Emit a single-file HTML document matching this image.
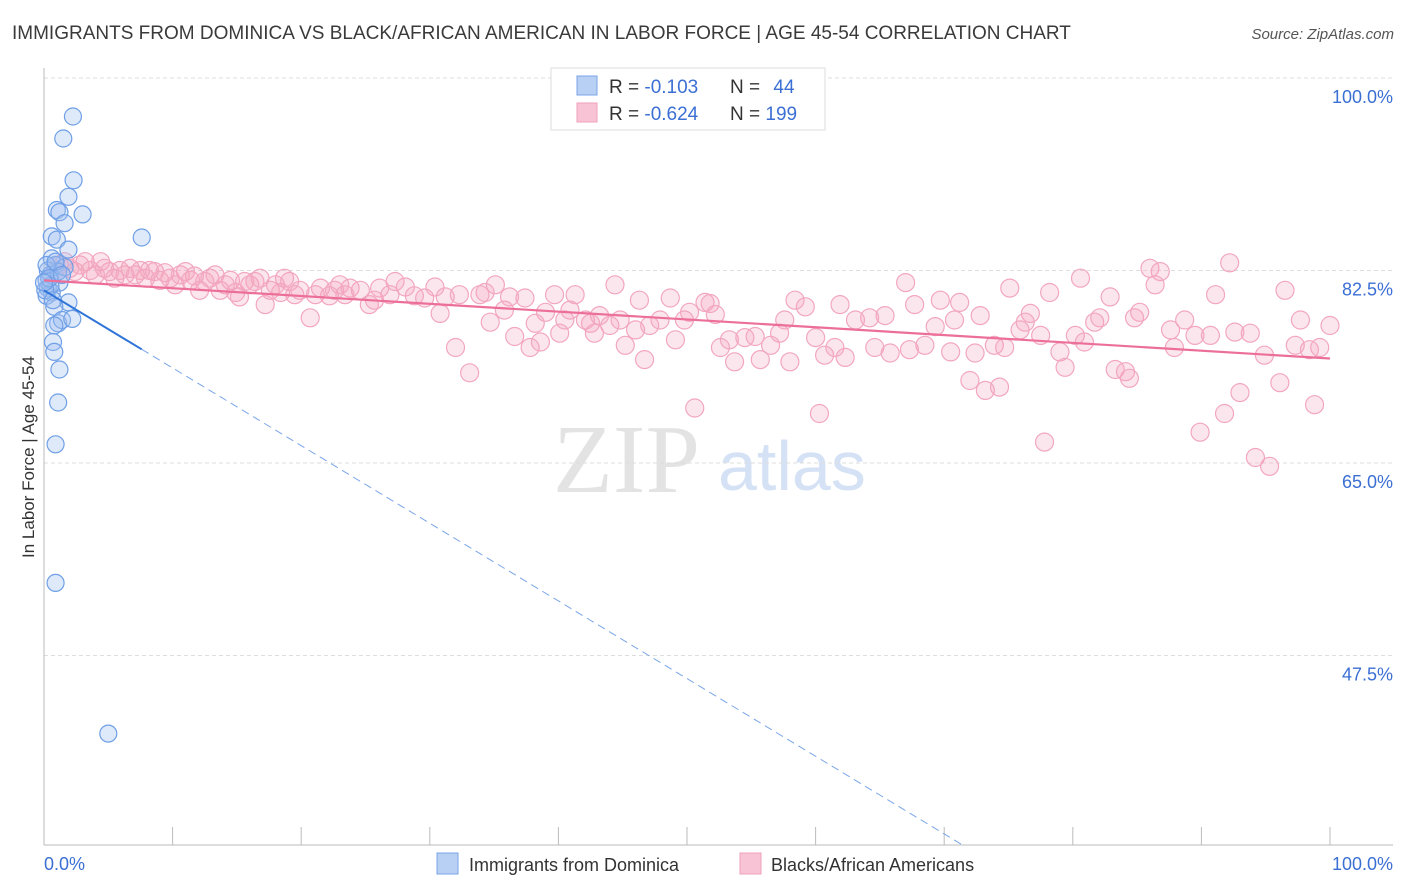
<!DOCTYPE html>
<html><head><meta charset="utf-8"><style>
body{margin:0;background:#fff;font-family:"Liberation Sans",sans-serif;}
#wrap{position:relative;width:1406px;height:892px;overflow:hidden;}
</style></head><body>
<div id="wrap">
<svg id="svg" width="1406" height="892" xmlns="http://www.w3.org/2000/svg">
<text x="12" y="39" font-size="19" fill="#3a3a3a" font-family="Liberation Sans">IMMIGRANTS FROM DOMINICA VS BLACK/AFRICAN AMERICAN IN LABOR FORCE | AGE 45-54 CORRELATION CHART</text>
<text x="1394" y="39" font-size="15" fill="#555" font-style="italic" text-anchor="end">Source: ZipAtlas.com</text>
<text transform="translate(34,457) rotate(-90)" font-size="17" fill="#333" text-anchor="middle">In Labor Force | Age 45-54</text>
<g>
<text x="553" y="492" font-size="98" fill="#e3e3e3" font-family="Liberation Serif">ZIP</text>
<text x="718" y="490" font-size="70" fill="#d5e2f5">atlas</text>
</g>
<g id="grid"></g>
<g id="axes"></g>
<g id="pinkPts"></g>
<g id="bluePts"></g>
<g id="trends"></g>
<g>
<rect x="551" y="68" width="274" height="62" fill="#fff" stroke="#ddd"/>
<rect x="577" y="76" width="20" height="19" fill="#b9d0f5" stroke="#7aa5e8"/>
<rect x="577" y="103" width="20" height="19" fill="#f8c3d4" stroke="#f0a0bb"/>
<text x="609" y="93" font-size="19" fill="#333">R = <tspan fill="#3b6fd4">-0.103</tspan></text>
<text x="730" y="93" font-size="19" fill="#333">N = <tspan fill="#3b6fd4" dx="8">44</tspan></text>
<text x="609" y="120" font-size="19" fill="#333">R = <tspan fill="#3b6fd4">-0.624</tspan></text>
<text x="730" y="120" font-size="19" fill="#333">N = <tspan fill="#3b6fd4">199</tspan></text>
</g>
<g>
<rect x="437" y="853" width="21" height="21" fill="#b9d0f5" stroke="#7aa5e8"/>
<text x="469" y="871" font-size="18" fill="#333">Immigrants from Dominica</text>
<rect x="740" y="853" width="21" height="21" fill="#f8c3d4" stroke="#f0a0bb"/>
<text x="771" y="871" font-size="18" fill="#333">Blacks/African Americans</text>
</g>
</svg>
</div>
<script>
const yTicks=[100,82.5,65,47.5];
const yTickLabels=["100.0%","82.5%","65.0%","47.5%"];
const xTickCount=10;
const blueX=[2.25,1.5,2.3,1.9,1.0,1.2,3.0,1.6,0.6,1.0,7.6,1.9,0.6,0.9,0.3,0.5,0.2,1.2,0.3,0.6,0.2,1.9,0.8,1.1,1.4,2.2,0.8,0.7,0.8,1.2,1.1,0.9,0.9,5.0,0.5,0.1,1.6,1.1,0.2,0.7,0.4,0.9,1.4,0.0];
const blueY=[96.5,94.5,90.7,89.2,88.0,87.8,87.6,86.8,85.6,85.3,85.5,84.4,83.6,83.0,82.5,82.1,81.6,81.4,80.9,80.5,80.2,79.6,79.2,77.7,78.0,78.1,77.5,76.0,75.1,73.5,70.5,66.7,54.1,40.4,81.1,80.7,82.8,82.4,83.0,79.8,81.8,83.3,82.1,81.4];
const pinkX=[0.9,1.2,1.6,2.0,2.4,2.8,3.2,3.6,4.0,4.4,4.7,5.1,5.5,5.9,6.3,6.7,7.1,7.5,7.9,8.2,8.6,9.0,9.4,9.8,10.2,10.6,11.0,11.4,11.7,12.1,12.5,12.9,13.3,13.7,14.1,14.5,14.9,15.2,15.6,16.0,16.4,16.8,17.2,17.6,18.0,18.4,18.7,19.1,19.5,19.9,20.7,21.1,21.5,22.2,22.6,23.0,23.4,23.8,24.6,25.3,25.7,26.1,26.9,27.3,28.1,28.8,29.6,30.4,30.8,31.2,32.0,32.3,33.1,33.9,34.3,34.7,35.1,35.8,36.2,36.6,37.4,37.8,38.2,38.6,39.0,39.7,40.1,40.5,40.9,41.3,42.1,42.5,42.8,43.2,44.0,44.4,44.8,45.2,46.0,46.3,46.7,47.1,47.9,48.7,49.1,49.8,50.2,50.6,51.4,51.8,52.2,52.6,53.3,53.7,54.5,55.3,55.7,56.5,57.2,57.6,58.0,58.4,59.2,60.0,60.3,60.7,61.5,61.9,62.3,63.1,64.2,64.6,65.4,65.8,67.0,67.3,67.7,68.5,69.3,69.7,70.5,70.8,71.2,72.0,72.4,72.8,73.2,73.9,74.3,74.7,75.1,75.9,76.3,76.7,77.5,77.8,78.2,79.0,79.4,80.2,80.6,80.9,81.7,82.1,82.9,83.3,84.1,84.4,84.8,85.2,86.0,86.4,86.8,87.6,87.9,88.7,89.5,89.9,90.7,91.1,91.8,92.2,92.6,93.0,93.8,94.2,94.9,95.3,96.1,96.5,97.3,97.7,98.4,98.8,99.2,100.0];
const pinkY=[82.5,83.0,83.3,82.7,82.4,83.0,83.3,82.5,82.1,83.3,82.7,82.4,81.8,82.5,82.1,82.7,82.1,82.5,81.8,82.5,82.4,81.6,82.3,81.8,81.2,82.1,82.4,81.6,82.0,80.7,81.5,81.8,82.1,80.7,81.2,81.6,80.5,80.1,81.5,81.2,81.5,81.8,79.4,80.7,81.2,80.5,81.8,81.5,80.3,80.7,78.2,80.3,80.9,80.2,80.7,81.2,80.3,80.9,80.7,79.4,79.8,80.9,80.3,81.5,81.0,80.2,80.0,81.0,78.6,80.1,75.5,80.3,73.2,80.3,80.5,77.8,81.2,78.9,80.1,76.5,80.0,75.5,77.7,76.0,78.7,80.3,76.8,78.0,78.9,80.3,78.0,77.7,76.8,78.4,77.5,81.2,78.0,75.7,77.1,79.8,74.4,77.5,78.0,80.0,76.2,78.0,78.7,70.0,79.6,79.5,78.5,75.5,76.2,74.2,76.4,76.5,74.4,75.7,76.8,78.0,74.2,79.8,79.2,76.4,69.5,74.8,75.5,79.4,74.6,78.0,78.2,75.5,78.4,75.0,81.4,75.3,79.4,75.7,77.4,79.8,75.1,78.0,79.6,72.5,75.0,78.4,71.6,75.7,71.9,75.5,80.9,77.1,77.8,78.6,76.6,66.9,80.5,75.1,73.7,76.6,81.8,76.0,77.8,78.2,80.1,73.5,73.3,72.7,78.2,78.7,82.7,81.2,82.4,77.1,75.5,78.0,76.6,67.8,76.6,80.3,69.5,83.2,76.9,71.4,76.8,65.5,74.8,64.7,72.3,80.7,75.7,78.0,75.3,70.3,75.5,77.5];
const blueTrend=[80.7,-0.706];
const pinkTrend=[81.6,-0.071];

const NS="http://www.w3.org/2000/svg";
const X0=44,X1=1330,YTOP=78,YPX=11,YBOT=845;
function sx(v){return X0+(X1-X0)*v/100;}
function sy(v){return YTOP+(100-v)*YPX;}
function mk(tag,attrs,parent){const e=document.createElementNS(NS,tag);for(const k in attrs)e.setAttribute(k,attrs[k]);parent.appendChild(e);return e;}
const grid=document.getElementById('grid');
yTicks.forEach((t,i)=>{
 const l=mk('line',{x1:X0,x2:1393,y1:sy(t),y2:sy(t),stroke:'#ddd','stroke-dasharray':'4,3'},grid);
 
 
 const tx=mk('text',{x:1393,y:sy(t)+25,'font-size':18,fill:'#3b6fd4','text-anchor':'end'},grid);
 tx.textContent=yTickLabels[i];
 
 
});
const axes=document.getElementById('axes');
let a=mk('line',{x1:X0,x2:X0,y1:68,y2:YBOT,stroke:'#bbb'},axes);


a=mk('line',{x1:X0,x2:1393,y1:YBOT,y2:YBOT,stroke:'#bbb'},axes);


for(let i=0;i<=xTickCount;i++){
 const t=mk('line',{x1:sx(i*10),x2:sx(i*10),y1:827,y2:YBOT,stroke:'#bbb'},axes);
 
 
}
let xl=mk('text',{x:44,y:870,'font-size':18,fill:'#3b6fd4'},axes);xl.textContent='0.0%';


xl=mk('text',{x:1393,y:870,'font-size':18,fill:'#3b6fd4','text-anchor':'end'},axes);xl.textContent='100.0%';



const pg=document.getElementById('pinkPts');
pinkX.forEach((x,i)=>{
 const c=mk('circle',{cx:sx(x),cy:sy(pinkY[i]),r:9,fill:'rgba(245,165,192,0.28)',stroke:'#f2a6c0','stroke-width':1.2},pg);
 
 
});
const bg=document.getElementById('bluePts');
blueX.forEach((x,i)=>{
 const c=mk('circle',{cx:sx(x),cy:sy(blueY[i]),r:8.5,fill:'rgba(160,192,242,0.35)',stroke:'#6f9fe6','stroke-width':1.2},bg);
 
 
});
const tg=document.getElementById('trends');
const bmax=Math.max(...blueX);
const yMinVal=100-(YBOT-YTOP)/YPX;
const xEnd=Math.min(100,(yMinVal-blueTrend[0])/blueTrend[1]);
let ln=mk('line',{x1:sx(0),y1:sy(blueTrend[0]),x2:sx(bmax),y2:sy(blueTrend[0]+blueTrend[1]*bmax),stroke:'#2f74d8','stroke-width':2},tg);


ln=mk('line',{x1:sx(bmax),y1:sy(blueTrend[0]+blueTrend[1]*bmax),x2:sx(xEnd),y2:sy(blueTrend[0]+blueTrend[1]*xEnd),stroke:'#7aa5e8','stroke-width':1,'stroke-dasharray':'8,5'},tg);


ln=mk('line',{x1:sx(0),y1:sy(pinkTrend[0]),x2:sx(100),y2:sy(pinkTrend[0]+pinkTrend[1]*100),stroke:'#ec6f9a','stroke-width':2.2},tg);


</script>
</body></html>
